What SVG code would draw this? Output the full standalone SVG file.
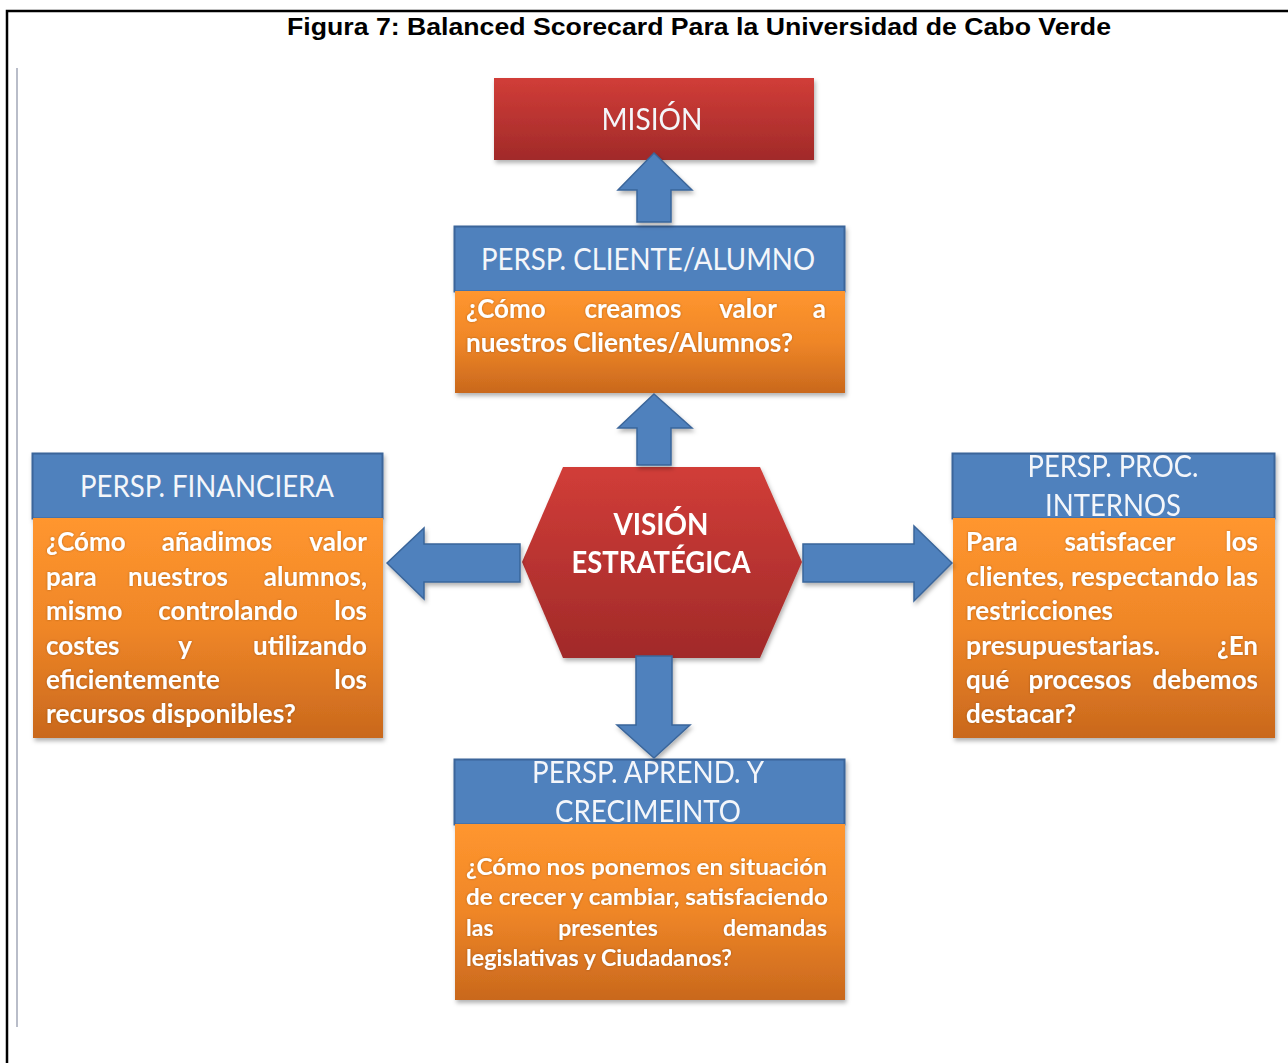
<svg xmlns="http://www.w3.org/2000/svg" width="1288" height="1063" viewBox="0 0 1288 1063">
  <defs>
    <linearGradient id="gRed" x1="0" y1="0" x2="0" y2="1">
      <stop offset="0" stop-color="#d13d38"/>
      <stop offset="1" stop-color="#a12a29"/>
    </linearGradient>
    <linearGradient id="gOrange" x1="0" y1="0" x2="0" y2="1">
      <stop offset="0" stop-color="#ff962f"/>
      <stop offset="0.5" stop-color="#ef8627"/>
      <stop offset="1" stop-color="#c9681d"/>
    </linearGradient>
    <filter id="shadow" x="-10%" y="-10%" width="125%" height="130%">
      <feDropShadow dx="1.5" dy="3" stdDeviation="2" flood-color="#000" flood-opacity="0.3"/>
    </filter>
    <filter id="glow" x="-5%" y="-20%" width="110%" height="140%">
      <feDropShadow dx="0" dy="0" stdDeviation="1" flood-color="#5a3000" flood-opacity="0.45"/>
    </filter>
  </defs>
  <style>
    .frame { stroke: #000; stroke-width: 2.5; fill: none; }
    .rule { stroke: #b9bdc9; stroke-width: 2; fill: none; }
    .title { font-family: "Liberation Sans", Arial, sans-serif; font-weight: bold; font-size: 23px; fill: #000; }
    .head { fill: #4f81bd; stroke: #3a659a; stroke-width: 2; }
    .body { fill: url(#gOrange); }
    .red { fill: url(#gRed); }
    .htxt { font-family: Lato, "Open Sans", sans-serif; font-size: 31px; fill: #f4f6fa; text-anchor: middle; }
    .btxt { font-family: Lato, "Open Sans", sans-serif; font-weight: bold; font-size: 26px; fill: #fff; }
    .stxt { font-family: Lato, "Open Sans", sans-serif; font-weight: bold; font-size: 23px; fill: #fff; }
    .vtxt { font-family: Lato, "Open Sans", sans-serif; font-weight: bold; font-size: 31px; fill: #fff; text-anchor: middle; }
    .mid { text-anchor: middle; }
    .end { text-anchor: end; }
    .arrow { fill: #4f81bd; stroke: #3a659a; stroke-width: 1.5; stroke-linejoin: miter; }
  </style>

  <rect width="1288" height="1063" fill="#fff"/>

  <!-- page frame -->
  <path class="frame" d="M7 1063 V11 H1288"/>
  <path class="rule" d="M17 68 V1027"/>

  <text class="title" x="699" y="35" text-anchor="middle" textLength="824" lengthAdjust="spacingAndGlyphs">Figura 7: Balanced Scorecard Para la Universidad de Cabo Verde</text>

  <!-- Mision -->
  <g id="mision" filter="url(#shadow)">
    <rect class="red" x="494" y="78" width="320" height="82"/>
    <text class="htxt" x="652" y="130" textLength="101" lengthAdjust="spacingAndGlyphs">MISIÓN</text>
  </g>

  <!-- Cliente / Alumno -->
  <g id="cliente">
    <g filter="url(#shadow)">
      <rect class="head" x="454.5" y="226.5" width="390" height="65"/>
      <rect class="body" x="455" y="291" width="390" height="102"/>
    </g>
    <text class="htxt" x="648" y="270" textLength="334" lengthAdjust="spacingAndGlyphs">PERSP. CLIENTE/ALUMNO</text>
    <g filter="url(#glow)">
      <text class="btxt" x="466" y="318">¿Cómo</text>
      <text class="btxt mid" x="633" y="318">creamos</text>
      <text class="btxt mid" x="748" y="318">valor</text>
      <text class="btxt end" x="826" y="318">a</text>
      <text class="btxt" x="466" y="352" textLength="327" lengthAdjust="spacingAndGlyphs">nuestros Clientes/Alumnos?</text>
    </g>
  </g>

  <!-- Financiera -->
  <g id="financiera">
    <g filter="url(#shadow)">
      <rect class="head" x="32.5" y="453.5" width="350" height="65"/>
      <rect class="body" x="33" y="518" width="350" height="220"/>
    </g>
    <text class="htxt" x="207" y="497" textLength="254" lengthAdjust="spacingAndGlyphs">PERSP. FINANCIERA</text>
    <g filter="url(#glow)">
      <text class="btxt" x="46" y="551">¿Cómo</text>
      <text class="btxt mid" x="217" y="551">añadimos</text>
      <text class="btxt end" x="367" y="551">valor</text>
      <text class="btxt" x="46" y="586">para</text>
      <text class="btxt mid" x="178" y="586">nuestros</text>
      <text class="btxt end" x="367" y="586">alumnos,</text>
      <text class="btxt" x="46" y="620">mismo</text>
      <text class="btxt mid" x="228" y="620">controlando</text>
      <text class="btxt end" x="367" y="620">los</text>
      <text class="btxt" x="46" y="655">costes</text>
      <text class="btxt mid" x="185" y="655">y</text>
      <text class="btxt end" x="367" y="655">utilizando</text>
      <text class="btxt" x="46" y="689">eficientemente</text>
      <text class="btxt end" x="367" y="689">los</text>
      <text class="btxt" x="46" y="723" textLength="250" lengthAdjust="spacingAndGlyphs">recursos disponibles?</text>
    </g>
  </g>

  <!-- Procesos internos -->
  <g id="procesos">
    <g filter="url(#shadow)">
      <rect class="head" x="952.5" y="453.5" width="322" height="65"/>
      <text class="htxt" x="1113" y="477" textLength="171" lengthAdjust="spacingAndGlyphs">PERSP. PROC.</text>
      <text class="htxt" x="1113" y="516" textLength="136" lengthAdjust="spacingAndGlyphs">INTERNOS</text>
      <rect class="body" x="953" y="518" width="322" height="220"/>
    </g>
    <g filter="url(#glow)">
      <text class="btxt" x="966" y="551">Para</text>
      <text class="btxt mid" x="1120" y="551">satisfacer</text>
      <text class="btxt end" x="1258" y="551">los</text>
      <text class="btxt" x="966" y="586" textLength="292" lengthAdjust="spacingAndGlyphs">clientes, respectando las</text>
      <text class="btxt" x="966" y="620" textLength="147" lengthAdjust="spacingAndGlyphs">restricciones</text>
      <text class="btxt" x="966" y="655" textLength="194" lengthAdjust="spacingAndGlyphs">presupuestarias.</text>
      <text class="btxt end" x="1258" y="655">¿En</text>
      <text class="btxt" x="966" y="689">qué</text>
      <text class="btxt mid" x="1080" y="689">procesos</text>
      <text class="btxt end" x="1258" y="689">debemos</text>
      <text class="btxt" x="966" y="723">destacar?</text>
    </g>
  </g>

  <!-- Aprendizaje y crecimiento -->
  <g id="aprendizaje">
    <g filter="url(#shadow)">
      <rect class="head" x="454.5" y="759.5" width="390" height="65"/>
      <text class="htxt" x="648" y="783" textLength="232" lengthAdjust="spacingAndGlyphs">PERSP. APREND. Y</text>
      <text class="htxt" x="648" y="822" textLength="186" lengthAdjust="spacingAndGlyphs">CRECIMEINTO</text>
      <rect class="body" x="455" y="824" width="390" height="176"/>
    </g>
    <g filter="url(#glow)">
      <text class="stxt" x="466" y="875" textLength="361" lengthAdjust="spacingAndGlyphs">¿Cómo nos ponemos en situación</text>
      <text class="stxt" x="466" y="905" textLength="362" lengthAdjust="spacingAndGlyphs">de crecer y cambiar, satisfaciendo</text>
      <text class="stxt" x="466" y="936">las</text>
      <text class="stxt mid" x="608" y="936">presentes</text>
      <text class="stxt end" x="827" y="936">demandas</text>
      <text class="stxt" x="466" y="966" textLength="266" lengthAdjust="spacingAndGlyphs">legislativas y Ciudadanos?</text>
    </g>
  </g>

  <!-- Vision estrategica -->
  <g id="vision" filter="url(#shadow)">
    <polygon class="red" points="563,467 760,467 802,562 760,658 563,658 522,562"/>
    <text class="vtxt" x="661" y="535" textLength="95" lengthAdjust="spacingAndGlyphs">VISIÓN</text>
    <text class="vtxt" x="661" y="573" textLength="179" lengthAdjust="spacingAndGlyphs">ESTRATÉGICA</text>
  </g>

  <!-- connectors -->
  <g id="connectors" filter="url(#shadow)">
    <polygon class="arrow" points="654,153 692,190 671,190 671,222 637,222 637,190 618,190"/>
    <polygon class="arrow" points="654,394 692,428 671,428 671,465 637,465 637,428 618,428"/>
    <polygon class="arrow" points="387,563 424,528 424,544 520,544 520,582 424,582 424,599"/>
    <polygon class="arrow" points="952,563 914,526 914,544 803,544 803,582 914,582 914,601"/>
    <polygon class="arrow" points="654,758 690,725 672,725 672,656 636,656 636,725 617,725"/>
  </g>
</svg>
